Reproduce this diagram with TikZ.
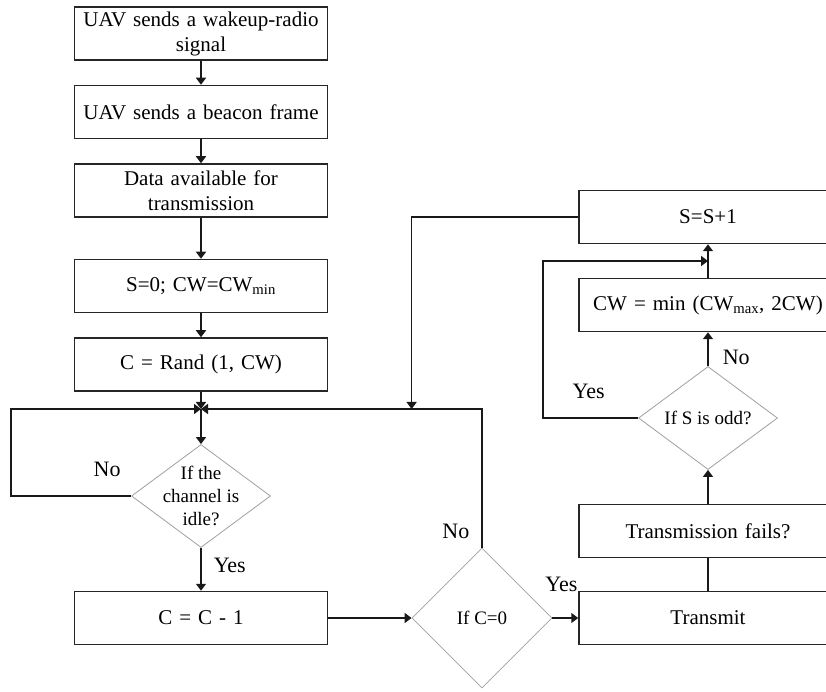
\documentclass[tikz,border=0pt]{standalone}
\usepackage{fontspec}
\setmainfont{Liberation Serif}
\usepackage{tikz}
\usetikzlibrary{shapes.geometric,arrows.meta,positioning}

\begin{document}
\begin{tikzpicture}[x=1pt, y=1pt, node distance=78.5pt, >={Triangle[length=7pt,width=10pt]}]
    % Define styles
    \tikzstyle{process} = [rectangle, minimum width=253pt, minimum height=53pt, inner sep=2pt, text width=245pt, align=center, draw=black!85, line width=1.5pt, font=\fontsize{21}{25}\selectfont]
    \tikzstyle{process2} = [process, minimum width=258pt, text width=250pt]
    \tikzstyle{decision} = [diamond, minimum width=139pt, minimum height=103pt, inner sep=0pt, draw=gray!75, line width=0.8pt, font=\fontsize{19}{23}\selectfont]
    \tikzstyle{answer} = [inner sep=3pt, font=\fontsize{22}{26}\selectfont]
    \tikzstyle{connector} = [draw=black!90, line width=1.5pt]

    \clip (0,0) rectangle (826,691);

    % Nodes
    \node[process] (wakeup) at (201,657.5) {UAV sends a wakeup-radio\\signal};
    \node[process, below of=wakeup] (beacon) {UAV sends a beacon frame};
    \node[process, below of=beacon] (data) {Data available for\\transmission};
    \node[process, below of=data, yshift=-17pt] (init) {S=0; CW=CW\textsubscript{min}};
    \node[process, below of=init] (rand) {C = Rand (1, CW)};
    \node[decision, below of=rand, yshift=-53pt, label={[align=center, font=\fontsize{19}{23}\selectfont]center:If the\\channel is\\idle?}] (idle) {};
    \node[process, below of=idle, yshift=-43.5pt] (dec) {C = C - 1};
    \node[decision, right of=dec, xshift=202.5pt, minimum width=140pt, minimum height=140pt] (zero) {If C=0};
    \node[process2, right of=zero, xshift=147.5pt] (transmit) {Transmit};
    \node[process2, above of=transmit, yshift=8.5pt] (fails) {Transmission fails?};
    \node[decision, above of=fails, yshift=34.5pt] (odd) {If S is odd?};
    \node[process2, above of=odd, yshift=34.5pt] (cw) {CW = min (CW\textsubscript{max}, 2CW)};
    \node[process2, above of=cw, yshift=9.5pt] (inc) {S=S+1};

    \coordinate (join) at (201,282);
    \coordinate (tap) at (zero.west |- join);
    \coordinate (merge) at (708,430);

    % Connections
    \draw[connector, ->] (wakeup) -- (beacon);
    \draw[connector, ->] (beacon) -- (data);
    \draw[connector, ->] (data) -- (init);
    \draw[connector, ->] (init) -- (rand);
    \draw[connector, ->] (rand) -- (join);
    \draw[connector, ->] (join) -- (idle);
    \draw[connector, ->] (idle.west) -| node[answer, pos=0.1, above=16pt] {No} ([xshift=-190pt]join) -- (join);
    \draw[connector, ->] (idle) -- node[answer, pos=0.42, right=9pt] {Yes} (dec);
    \draw[connector, ->] (dec) -- (zero);
    \draw[connector, ->] (zero.north) |- node[answer, pos=0.06, left=9pt] {No} (join);
    \draw[connector, ->] (zero) -- node[answer, pos=0.35, above=23pt] {Yes} (transmit);
    \draw[connector] (transmit) -- (fails);
    \draw[connector, ->] (fails) -- (odd);
    \draw[connector, ->] (odd) -- node[answer, pos=0.25, right=11pt] {No} (cw);
    \draw[connector, ->] (cw) -- (inc);
    \draw[connector, ->] (odd.west) -| node[answer, pos=0.26, above=16pt] {Yes} ([xshift=-165pt]merge) -- (merge);
    \draw[connector, ->] (inc.west) -| (tap);
\end{tikzpicture}
\end{document}
